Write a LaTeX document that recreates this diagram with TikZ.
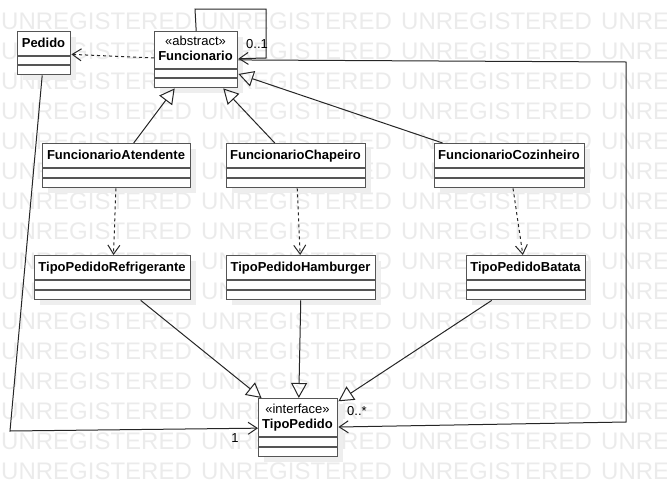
\documentclass[tikz,border=0pt]{standalone}
\usepackage{fontspec}
\setmainfont{Liberation Sans}
\usepackage{xcolor}
\usetikzlibrary{arrows.meta, shadows}
\definecolor{boxline}{HTML}{555555}
\definecolor{stampgray}{HTML}{EBEBEB}
\definecolor{shadegray}{HTML}{EEEEEE}

\begin{document}
\begin{tikzpicture}[x=1pt, y=-1pt,
    classbox/.style={rectangle, draw=boxline, line width=1.4pt, fill=white, inner sep=0pt, anchor=north west,
        drop shadow={shadow xshift=5pt, shadow yshift=-5pt, fill=shadegray, opacity=1}},
    cname/.style={font=\bfseries\fontsize{13}{15}\selectfont, inner sep=0pt, text height=9.5pt, text depth=2.5pt},
    stereo/.style={font=\fontsize{13}{15}\selectfont, inner sep=0pt, text height=9.5pt, text depth=2.5pt},
    mult/.style={font=\fontsize{13}{15}\selectfont, inner sep=0pt},
    sep/.style={draw=boxline, line width=1.4pt},
    stamp/.style={font=\fontsize{24}{26}\selectfont, text=stampgray, inner sep=0pt, anchor=west},
    assoc/.style={line width=1pt, draw=black!85, -{Straight Barb[length=9pt, width=12pt]}},
    dep/.style={assoc, dash pattern=on 3pt off 3pt},
    gen/.style={line width=1pt, draw=black!85, -{Triangle[open, length=15pt, width=16pt]}}]
            \useasboundingbox (0,0) rectangle (667,496);

            % watermark
            \begin{scope}
                \clip (0,0) rectangle (667,496);
                \foreach \r in {0,...,15} {
                    \foreach \c in {0,...,3} {
                        \node[stamp] at (200*\c+1, 21.5+30*\r) (wm-\r-\c) {UNREGISTERED};
                    }
                }
            \end{scope}

            % classes
            \node[classbox, minimum width=53, minimum height=43] at (17, 31)   (pedido) {};
            \node[classbox, minimum width=83, minimum height=56] at (154, 31)  (func) {};
            \node[classbox, minimum width=148, minimum height=44] at (42, 143)  (atend) {};
            \node[classbox, minimum width=139, minimum height=44] at (226, 143) (chap) {};
            \node[classbox, minimum width=150, minimum height=44] at (434, 143) (cozi) {};
            \node[classbox, minimum width=156, minimum height=44] at (34, 255)  (refri) {};
            \node[classbox, minimum width=149, minimum height=44] at (226, 255) (hamb) {};
            \node[classbox, minimum width=119, minimum height=44] at (466, 255) (batata) {};
            \node[classbox, minimum width=79, minimum height=58] at (258, 398)  (tipo) {};

            \node[cname] at (43.5, 43.5)  (pedido-n) {Pedido};
            \node[stereo] at (195.5, 42)  (func-s) {«abstract»};
            \node[cname] at (195.5, 57)   (func-n) {Funcionario};
            \node[cname] at (116, 155.5)  (atend-n) {FuncionarioAtendente};
            \node[cname] at (295.5, 155.5) (chap-n) {FuncionarioChapeiro};
            \node[cname] at (509, 155.5)  (cozi-n) {FuncionarioCozinheiro};
            \node[cname] at (112, 267.5)  (refri-n) {TipoPedidoRefrigerante};
            \node[cname] at (300.5, 267.5) (hamb-n) {TipoPedidoHamburger};
            \node[cname] at (525.5, 267.5) (batata-n) {TipoPedidoBatata};
            \node[stereo] at (297.5, 410) (tipo-s) {«interface»};
            \node[cname] at (297.5, 425)  (tipo-n) {TipoPedido};

            % compartments
            \draw[sep] ([yshift=-25pt]pedido.north west) -- ([yshift=-25pt]pedido.north east);
            \draw[sep] ([yshift=-34pt]pedido.north west) -- ([yshift=-34pt]pedido.north east);
            \draw[sep] ([yshift=-38pt]func.north west) -- ([yshift=-38pt]func.north east);
            \draw[sep] ([yshift=-47pt]func.north west) -- ([yshift=-47pt]func.north east);
            \draw[sep] ([yshift=-39pt]tipo.north west) -- ([yshift=-39pt]tipo.north east);
            \draw[sep] ([yshift=-49pt]tipo.north west) -- ([yshift=-49pt]tipo.north east);
            \foreach \n in {atend, chap, cozi, refri, hamb, batata} {
                \draw[sep] ([yshift=-25pt]\n.north west) -- ([yshift=-25pt]\n.north east);
                \draw[sep] ([yshift=-35pt]\n.north west) -- ([yshift=-35pt]\n.north east);
            }

            % connectors
            \coordinate (loop1) at (195, 9);
            \coordinate (loop2) at (266, 9);
            \coordinate (loop3) at (266, 58);
            \coordinate (fbend1) at (626, 62);
            \coordinate (fbend2) at (626, 422);
            \coordinate (pbend) at (10, 431);

            \draw [dep] (func) -- (pedido);
            \draw [assoc] (func.north) -- (loop1) -- (loop2) -- (loop3) -- (func);
            \draw [assoc] (func) -- (fbend1) -- (fbend2) -- (tipo);
            \draw [assoc] (pedido) -- (pbend) -- (tipo);
            \draw [gen] (atend) -- (func);
            \draw [gen] (chap) -- (func);
            \draw [gen] (cozi) -- (func);
            \draw [dep] (atend) -- (refri);
            \draw [dep] (chap) -- (hamb);
            \draw [dep] (cozi) -- (batata);
            \draw [gen] (refri) -- (tipo);
            \draw [gen] (hamb) -- (tipo);
            \draw [gen] (batata) -- (tipo);

            \node[mult] at (257, 44)  (m-loop) {0..1};
            \node[mult] at (357, 411) (m-tipo) {0..*};
            \node[mult] at (235, 438) (m-pedido) {1};
        \end{tikzpicture}
\end{document}
